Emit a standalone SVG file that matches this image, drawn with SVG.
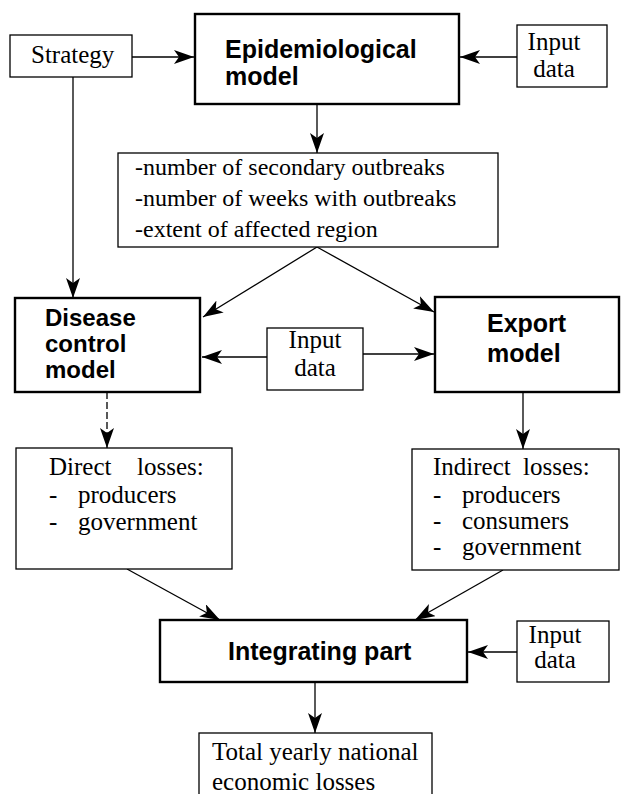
<svg xmlns="http://www.w3.org/2000/svg" width="621" height="794" viewBox="0 0 621 794">
<style>
.thin{fill:#fff;stroke:#000;stroke-width:1.3}
.thick{fill:#fff;stroke:#000;stroke-width:2.4}
.serif{font-family:"Liberation Serif","Times New Roman",serif;font-size:25px;fill:#000}
.out{font-family:"Liberation Serif","Times New Roman",serif;font-size:24px;fill:#000}
.bold{font-family:"Liberation Sans",Arial,sans-serif;font-weight:bold;font-size:25px;fill:#000}
.bold24{font-family:"Liberation Sans",Arial,sans-serif;font-weight:bold;font-size:24px;fill:#000}
.conn line{stroke:#000;stroke-width:1.3;fill:none;marker-end:url(#ah)}
</style>
<defs>
<marker id="ah" markerUnits="userSpaceOnUse" viewBox="0 0 20 14" markerWidth="20" markerHeight="14" refX="20" refY="7" orient="auto">
<path d="M0,0 L20,7 L0,14 L5,7 Z" fill="#000"/>
</marker>
</defs>
<rect width="621" height="794" fill="#fff"/>
<g class="conn">
<line x1="132" y1="57" x2="194" y2="57"/>
<line x1="517" y1="57" x2="460" y2="57"/>
<line x1="317" y1="105" x2="317" y2="153"/>
<line x1="73" y1="77" x2="73" y2="298"/>
<line x1="317" y1="247" x2="203" y2="317"/>
<line x1="317" y1="247" x2="434" y2="312"/>
<line x1="267" y1="357" x2="202" y2="357"/>
<line x1="363" y1="354" x2="434" y2="354"/>
<line x1="107" y1="392" x2="107" y2="448" stroke-dasharray="7 3"/>
<line x1="523" y1="392" x2="523" y2="449"/>
<line x1="127" y1="569" x2="220" y2="620"/>
<line x1="503" y1="570" x2="415" y2="620"/>
<line x1="517" y1="652" x2="468" y2="652"/>
<line x1="315" y1="682" x2="315" y2="733"/>
</g>
<g id="strategy">
<rect class="thin" x="10" y="35" width="122" height="42"/>
<text class="serif" x="31" y="63">Strategy</text>
</g>
<g id="epi">
<rect class="thick" x="195" y="14" width="264" height="90"/>
<text class="bold" x="225" y="58">Epidemiological</text>
<text class="bold" x="225" y="85">model</text>
</g>
<g id="input1">
<rect class="thin" x="517" y="25" width="90" height="62"/>
<text class="serif" x="554" y="50" text-anchor="middle">Input</text>
<text class="serif" x="554" y="77" text-anchor="middle">data</text>
</g>
<g id="outputs">
<rect class="thin" x="118" y="153" width="380" height="94"/>
<text class="out" x="135" y="175">-number of secondary outbreaks</text>
<text class="out" x="135" y="206">-number of weeks with outbreaks</text>
<text class="out" x="135" y="237">-extent of affected region</text>
</g>
<g id="disease">
<rect class="thick" x="15" y="298" width="185" height="94"/>
<text class="bold24" x="45" y="326">Disease</text>
<text class="bold24" x="45" y="352">control</text>
<text class="bold24" x="45" y="378">model</text>
</g>
<g id="input2">
<rect class="thin" x="267" y="328" width="96" height="62"/>
<text class="serif" x="315" y="348" text-anchor="middle">Input</text>
<text class="serif" x="315" y="376" text-anchor="middle">data</text>
</g>
<g id="export">
<rect class="thick" x="435" y="297" width="184" height="95"/>
<text class="bold" x="487" y="332">Export</text>
<text class="bold" x="487" y="362">model</text>
</g>
<g id="direct">
<rect class="thin" x="16" y="448" width="216" height="121"/>
<text class="serif" x="49" y="475">Direct<tspan x="137">losses:</tspan></text>
<text class="serif" x="49" y="503">-<tspan x="78">producers</tspan></text>
<text class="serif" x="49" y="530">-<tspan x="78">government</tspan></text>
</g>
<g id="indirect">
<rect class="thin" x="412" y="449" width="207" height="121"/>
<text class="serif" x="433" y="475">Indirect<tspan x="523">losses:</tspan></text>
<text class="serif" x="433" y="503">-<tspan x="462">producers</tspan></text>
<text class="serif" x="433" y="529">-<tspan x="462">consumers</tspan></text>
<text class="serif" x="433" y="555">-<tspan x="462">government</tspan></text>
</g>
<g id="integrating">
<rect class="thick" x="160" y="620" width="307" height="62"/>
<text class="bold" x="228" y="660">Integrating part</text>
</g>
<g id="input3">
<rect class="thin" x="517" y="621" width="92" height="61"/>
<text class="serif" x="555" y="643" text-anchor="middle">Input</text>
<text class="serif" x="555" y="668" text-anchor="middle">data</text>
</g>
<g id="total">
<rect class="thin" x="199" y="733" width="233" height="70"/>
<text class="serif" x="212" y="760">Total yearly national</text>
<text class="serif" x="212" y="790">economic losses</text>
</g>
</svg>
